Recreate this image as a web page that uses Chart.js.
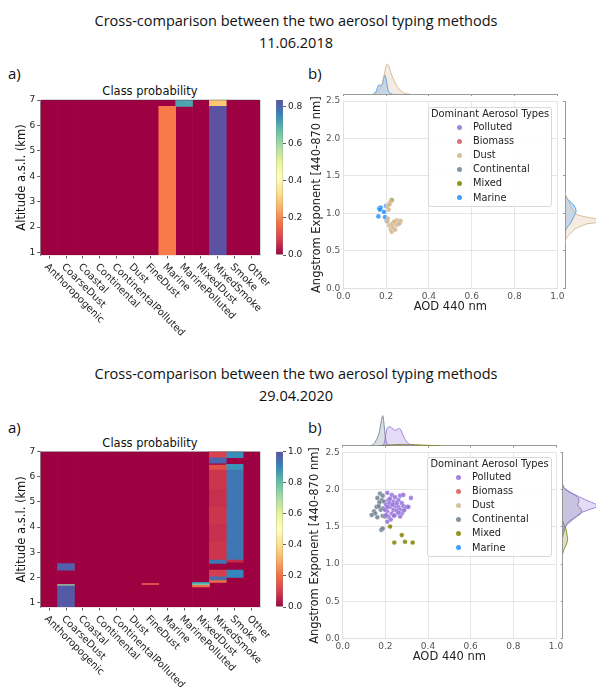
<!DOCTYPE html>
<html><head><meta charset="utf-8">
<script src="https://cdn.jsdelivr.net/npm/chart.js@4.4.1/dist/chart.umd.min.js"></script>
<style>
html,body{margin:0;padding:0;background:#fff;overflow:hidden;width:596px;height:687px;}
#fig{position:relative;width:596px;height:687px;overflow:hidden;background:#fff;}
canvas{position:absolute;}
.sup{position:absolute;left:296px;transform:translate(-50%,-50%);font-family:"Open Sans";font-size:14.5px;color:#111;white-space:nowrap;}
.pl{position:absolute;transform:translateY(-50%);font-family:"Open Sans";font-size:15px;color:#111;}
.ct{position:absolute;transform:translate(-50%,-50%);font-family:"DejaVu Sans";font-size:11.5px;color:#111;white-space:nowrap;}
.leg{position:absolute;box-sizing:border-box;border:1px solid #d9d9d9;border-radius:3px;background:rgba(255,255,255,0.85);font-family:"DejaVu Sans";font-size:9.8px;color:#222;}
.legt{position:absolute;left:0;right:0;text-align:center;transform:translateY(-50%);line-height:12px;white-space:nowrap;}
.legi{position:absolute;left:0;width:100%;height:12px;line-height:12px;transform:translateY(-50%);}
.dot{position:absolute;left:27.5px;top:3.5px;width:5px;height:5px;border-radius:50%;}
.lab{position:absolute;left:44px;top:0;white-space:nowrap;}
</style></head>
<body><div id="fig">
<div class="sup" style="top:20px">Cross-comparison between the two aerosol typing methods</div>
<div class="sup" style="top:42px">11.06.2018</div>
<div class="pl" style="left:8px;top:73px">a)</div>
<div class="pl" style="left:308px;top:73px">b)</div>
<div class="ct" style="left:150px;top:91px">Class probability</div>
<div class="sup" style="top:373px">Cross-comparison between the two aerosol typing methods</div>
<div class="sup" style="top:395px">29.04.2020</div>
<div class="pl" style="left:8px;top:427px">a)</div>
<div class="pl" style="left:308px;top:427px">b)</div>
<div class="ct" style="left:150px;top:443px">Class probability</div>
</div>
<script>
// ---------------- data ----------------
const categories = ['Anthoropogenic','CoarseDust','Coastal','Continental','ContinentalPolluted','Dust','FineDust','Marine','MarinePolluted','MixedDust','MixedSmoke','Smoke','Other'];
const altitudeTicks = [1,2,3,4,5,6,7];
const altitudeRange2018 = [0.9, 7];
const altitudeRange2020 = [0.82, 7];
const probMax2018 = 0.835;
const probMax2020 = 1.0;
const probTicks2018 = [0,0.2,0.4,0.6,0.8];
const probTicks2020 = [0,0.2,0.4,0.6,0.8,1.0];
// [category index, bottom km, top km, probability]
const probCells2018 = [
  [7, 0.9, 6.75, 0.185],
  [8, 6.75, 7.0, 0.71],
  [10, 0.9, 6.75, 0.83],
  [10, 6.75, 7.0, 0.29]
];
const probCells2020 = [
  [1, 0.82, 1.66, 0.98],
  [1, 1.66, 1.71, 0.72],
  [1, 2.29, 2.55, 0.97],
  [6, 1.71, 1.76, 0.14],
  [9, 1.62, 1.68, 0.2],
  [9, 1.68, 1.74, 0.78],
  [9, 1.74, 1.80, 0.88],
  [10, 1.80, 1.87, 0.2],
  [10, 1.87, 2.02, 0.95],
  [10, 2.02, 2.29, 0.1],
  [10, 2.55, 2.69, 0.93],
  [10, 2.69, 3.4, 0.085],
  [10, 3.4, 4.1, 0.075],
  [10, 4.1, 4.8, 0.085],
  [10, 4.8, 5.5, 0.075],
  [10, 5.5, 6.27, 0.085],
  [10, 6.27, 6.47, 0.14],
  [10, 6.54, 6.76, 0.96],
  [10, 6.76, 7.0, 0.11],
  [11, 2.0, 2.29, 0.9],
  [11, 2.6, 2.69, 0.07],
  [11, 2.69, 6.27, 0.93],
  [11, 6.27, 6.5, 0.88],
  [11, 6.76, 7.0, 0.89]
];

const aerosolTypes = ['Polluted','Biomass','Dust','Continental','Mixed','Marine'];
const typeColors = ['#9370db','#cd5c5c','#d2b48c','#708090','#808000','#1e90ff'];
const aodTicks = [0,0.2,0.4,0.6,0.8,1.0];
const aeTicks = [0,0.5,1.0,1.5,2.0,2.5];

// scatter points [AOD 440, Angstrom exponent]
const marine2018 = [[0.168,1.067],[0.175,1.076],[0.164,0.96],[0.19,1.02],[0.195,0.95],[0.203,0.90],[0.2,1.1],[0.171,1.05]];
const dust2018 = [[0.210,1.11],[0.218,1.14],[0.222,1.16],[0.205,1.09],[0.212,1.05],[0.206,0.89],[0.215,0.84],[0.221,0.79],[0.226,0.755],[0.234,0.80],[0.242,0.87],[0.25,0.91],[0.257,0.89],[0.265,0.875],[0.268,0.90],[0.25,0.845],[0.231,0.82],[0.242,0.78],[0.228,0.86],[0.238,0.89],[0.26,0.86],[0.215,1.12],[0.208,0.93]];
const mixed2018 = [[0.226,1.175]];
const polluted2020 = [[0.209,1.96],[0.23,1.93],[0.245,1.90],[0.269,1.92],[0.284,1.93],[0.32,1.89],[0.214,1.86],[0.2375,1.84],[0.261,1.86],[0.277,1.82],[0.203,1.80],[0.222,1.77],[0.245,1.78],[0.261,1.77],[0.269,1.73],[0.284,1.78],[0.292,1.75],[0.209,1.71],[0.23,1.68],[0.245,1.66],[0.214,1.64],[0.225,1.60],[0.209,1.57],[0.2375,1.73],[0.253,1.72],[0.277,1.68],[0.30,1.77],[0.219,1.82],[0.234,1.80],[0.198,1.73],[0.203,1.66],[0.253,1.82],[0.269,1.64],[0.222,1.88],[0.24,1.65],[0.209,1.77],[0.261,1.69],[0.2875,1.72],[0.308,1.77]];
const continental2020 = [[0.175,1.95],[0.1875,1.92],[0.1625,1.89],[0.183,1.86],[0.194,1.84],[0.172,1.83],[0.159,1.77],[0.147,1.71],[0.153,1.68],[0.136,1.66],[0.1625,1.63],[0.1875,1.65],[0.178,1.73],[0.19,1.75],[0.181,1.46],[0.1875,1.48],[0.198,1.64],[0.169,1.78]];
const mixed2020 = [[0.222,1.505],[0.242,1.29],[0.277,1.39],[0.292,1.30],[0.328,1.29]];

// marginal density curves (relative density)
const kdeMax = 37;
const aodDensDust2018 = [[0.14,0],[0.155,1],[0.165,3],[0.175,7],[0.185,13],[0.193,21],[0.2,28],[0.206,30],[0.213,28],[0.22,23],[0.228,18],[0.236,14],[0.245,10],[0.255,6.5],[0.265,4],[0.275,2],[0.29,0.5],[0.31,0]];
const aodDensMarine2018 = [[0.14,0],[0.15,1.5],[0.158,5],[0.164,8.5],[0.17,9],[0.176,8],[0.182,10],[0.188,15],[0.194,19],[0.2,15],[0.206,7],[0.212,2.5],[0.22,0.5],[0.23,0]];
const aeDensDust2018 = [[1.28,0],[1.24,1],[1.18,3],[1.1,6],[1.04,8],[1.0,10],[0.97,15],[0.94,26],[0.92,34],[0.9,38],[0.88,34],[0.86,22],[0.83,16],[0.8,11],[0.76,7.5],[0.72,4.5],[0.68,2],[0.64,0.5],[0.6,0]];
const aeDensMarine2018 = [[1.24,0],[1.2,1.5],[1.16,5],[1.12,8],[1.08,10],[1.04,11],[1.0,10.5],[0.96,9],[0.92,7.5],[0.88,6],[0.84,4],[0.8,1.5],[0.76,0.3],[0.72,0]];
const aodDensPolluted2020 = [[0.185,0],[0.194,2],[0.2,9],[0.206,16],[0.213,18.5],[0.22,19],[0.228,18],[0.237,16.5],[0.245,15.5],[0.253,16],[0.262,17],[0.27,16.5],[0.277,13.5],[0.285,9.5],[0.292,6.5],[0.302,3.5],[0.312,1.5],[0.325,0.3],[0.34,0]];
const aodDensContinental2020 = [[0.13,0],[0.142,1],[0.152,3.5],[0.16,6.5],[0.167,10],[0.173,15],[0.179,22],[0.184,28],[0.188,30],[0.192,25],[0.197,14],[0.202,6],[0.208,2],[0.215,0.5],[0.225,0]];
const aodDensMixed2020 = [[0.17,0],[0.2,0.5],[0.24,1],[0.28,1.3],[0.32,1.2],[0.36,0.8],[0.4,0.4],[0.44,0.1],[0.46,0]];
const aeDensPolluted2020 = [[2.08,0],[2.03,1.5],[1.99,5],[1.95,10],[1.91,16],[1.87,22],[1.83,29],[1.8,34],[1.77,34],[1.74,28],[1.7,20],[1.66,15],[1.62,12],[1.58,8.5],[1.54,5],[1.5,2],[1.46,0.5],[1.42,0]];
const aeDensContinental2020 = [[2.04,0],[2.0,3],[1.96,8],[1.92,13],[1.88,16],[1.84,16],[1.8,15],[1.76,17],[1.72,19],[1.68,18],[1.64,14],[1.6,9],[1.56,5],[1.52,3.5],[1.48,2.5],[1.44,1.5],[1.4,0.5],[1.36,0]];
const aeDensMixed2020 = [[1.58,0],[1.54,1],[1.5,2.5],[1.46,3.5],[1.42,4],[1.38,4.5],[1.34,5],[1.3,4.5],[1.26,3.5],[1.22,2],[1.18,0.8],[1.14,0]];

// ---------------- helpers ----------------
const SPECTRAL = ['#9e0142','#d53e4f','#f46d43','#fdae61','#fee08b','#ffffbf','#e6f598','#abdda4','#66c2a5','#3288bd','#5e4fa2'];
function hexRgb(h){return [parseInt(h.slice(1,3),16),parseInt(h.slice(3,5),16),parseInt(h.slice(5,7),16)];}
function spectral(t){
  t = Math.max(0, Math.min(1, t));
  const p = t*10, i = Math.min(9, Math.floor(p)), f = p - i;
  const a = hexRgb(SPECTRAL[i]), b = hexRgb(SPECTRAL[i+1]);
  return 'rgb(' + a.map((v,k)=>Math.round(v+(b[k]-v)*f)).join(',') + ')';
}
function rgba(hex,a){const c=hexRgb(hex);return `rgba(${c[0]},${c[1]},${c[2]},${a})`;}

Chart.defaults.font.family = '"DejaVu Sans"';
Chart.defaults.animation = false;
Chart.defaults.events = [];
Chart.defaults.plugins.legend.display = false;
Chart.defaults.plugins.tooltip.enabled = false;

const fig = document.getElementById('fig');
function makeChart(x, y, w, h, config){
  const c = document.createElement('canvas');
  c.width = w; c.height = h;
  c.style.left = x+'px'; c.style.top = y+'px'; c.style.width = w+'px'; c.style.height = h+'px';
  fig.appendChild(c);
  config.options = Object.assign({responsive:false, maintainAspectRatio:false, devicePixelRatio:1}, config.options);
  return new Chart(c.getContext('2d'), config);
}
function fixTicks(values){ return s => { s.ticks = values.map(v => ({value:v})); }; }

const diagLabels = { id:'diagLabels', afterDraw(chart){
  const s = chart.scales.x, ctx = chart.ctx;
  ctx.save(); ctx.font = '10px "DejaVu Sans"'; ctx.fillStyle = '#222'; ctx.textAlign = 'left'; ctx.textBaseline = 'middle';
  s.ticks.forEach((t,i) => {
    const px = s.getPixelForTick(i);
    ctx.save(); ctx.translate(px - 3, chart.chartArea.bottom + 10.5); ctx.rotate(Math.PI/4);
    ctx.fillText(s.getLabelForValue(t.value), 0, 0); ctx.restore();
  });
  ctx.restore();
}};
const frame = { id:'frame', afterDatasetsDraw(chart){
  const a = chart.chartArea, ctx = chart.ctx;
  ctx.save(); ctx.strokeStyle = 'rgba(60,60,60,0.6)'; ctx.lineWidth = 0.7;
  ctx.beginPath(); ctx.moveTo(a.left, a.top); ctx.lineTo(a.right, a.top); ctx.lineTo(a.right, a.bottom); ctx.stroke();
  ctx.restore();
}};

function heatmap(x, y, w, h, pad, axisW, axisH, range, vmax, cells){
  const base = { data: categories.map(() => [range[0], range[1]]), backgroundColor: spectral(0), order: 1 };
  const ds = cells.map(([ci, y0, y1, p]) => ({
    data: categories.map((_, i) => i === ci ? [y0, y1] : null),
    backgroundColor: spectral(p / vmax), order: 0 }));
  return makeChart(x, y, w, h, {
    type: 'bar',
    data: { labels: categories, datasets: [...ds, base] },
    options: {
      layout: { padding: pad },
      datasets: { bar: { grouped: false, barPercentage: 1, categoryPercentage: 1, borderWidth: 0 } },
      scales: {
        x: { type: 'category', offset: true,
             grid: { offset: false, drawOnChartArea: false, tickLength: 3.5, tickColor: '#333', tickWidth: 0.8 },
             border: { color: '#efe3e6', width: 2 }, ticks: { display: false },
             afterFit: s => { s.height = axisH; } },
        y: { type: 'linear', min: range[0], max: range[1], afterBuildTicks: fixTicks(altitudeTicks),
             grid: { drawOnChartArea: false, tickLength: 3.5, tickColor: '#333', tickWidth: 0.8 },
             border: { color: 'rgba(60,60,60,0.7)', width: 0.8 },
             ticks: { font: { size: 9 }, color: '#222', padding: 2 },
             title: { display: true, text: 'Altitude a.s.l. (km)', font: { size: 11.5 }, color: '#111', padding: { top: 14.8, bottom: 0 } },
             afterFit: s => { s.width = axisW; } }
      }
    },
    plugins: [frame, diagLabels]
  });
}

function colorbar(x, y, w, h, pad, axisW, vmax, ticks){
  return makeChart(x, y, w, h, {
    type: 'bar',
    data: { labels: [''], datasets: [{ data: [[0, vmax]],
      backgroundColor: c => {
        const ch = c.chart; if (!ch.chartArea) return SPECTRAL[0];
        const ys = ch.scales.y;
        const g = ch.ctx.createLinearGradient(0, ys.getPixelForValue(0), 0, ys.getPixelForValue(vmax));
        SPECTRAL.forEach((col, i) => g.addColorStop(i/10, col));
        return g;
      },
      borderColor: 'rgba(70,70,70,0.7)', borderWidth: 0.6, borderSkipped: false, barPercentage: 1, categoryPercentage: 1 }] },
    options: {
      layout: { padding: pad },
      scales: {
        x: { display: false },
        y: { position: 'right', min: 0, max: vmax, afterBuildTicks: fixTicks(ticks),
             grid: { drawOnChartArea: false, tickLength: 3, tickColor: '#333', tickWidth: 0.8 },
             border: { display: false },
             ticks: { font: { size: 9 }, color: '#222', padding: 2, callback: v => Number(v).toFixed(1) },
             afterFit: s => { s.width = axisW; } }
      }
    }
  });
}

function scatter(x, y, w, h, pad, axisW, axisH, xTitlePad, yTitlePad, series){
  const datasets = aerosolTypes.map((name, i) => ({
    label: name, data: series[i].map(([a, e]) => ({ x: a, y: e })),
    backgroundColor: rgba(typeColors[i], 0.85), borderColor: 'rgba(255,255,255,0.7)', borderWidth: 0.4, pointRadius: 2.4 }));
  return makeChart(x, y, w, h, {
    type: 'scatter', data: { datasets },
    options: {
      layout: { padding: pad },
      scales: {
        x: { type: 'linear', min: 0, max: 1, afterBuildTicks: fixTicks(aodTicks),
             grid: { color: '#e0e0e0', lineWidth: 0.8, drawTicks: false }, border: { color: '#e0e0e0', width: 0.8 },
             ticks: { font: { size: 9 }, color: '#555', padding: 3, callback: v => Number(v).toFixed(1) },
             title: { display: true, text: 'AOD 440 nm', font: { size: 11.5 }, color: '#222', padding: { top: 0, bottom: xTitlePad } },
             afterFit: s => { s.height = axisH; } },
        y: { type: 'linear', min: 0, max: 2.5, afterBuildTicks: fixTicks(aeTicks),
             grid: { color: '#e0e0e0', lineWidth: 0.8, drawTicks: false }, border: { color: '#e0e0e0', width: 0.8 },
             ticks: { font: { size: 9 }, color: '#555', padding: 3, callback: v => Number(v).toFixed(1) },
             title: { display: true, text: 'Angstrom Exponent [440-870 nm]', font: { size: 11.5 }, color: '#222', padding: { top: yTitlePad, bottom: 0 } },
             afterFit: s => { s.width = axisW; } }
      }
    }
  });
}

function kdeSets(curves, horizontal){
  return curves.map(([ti, arr]) => ({
    data: arr.map(([v, d]) => horizontal ? ({ x: v, y: d }) : ({ x: d, y: v })),
    fill: 'origin', backgroundColor: rgba(typeColors[ti], 0.25), borderColor: rgba(typeColors[ti], 0.85),
    borderWidth: 1, pointRadius: 0, tension: 0.35 }));
}
function topKde(x, y, w, h, pad, axisH, curves){
  return makeChart(x, y, w, h, {
    type: 'line', data: { datasets: kdeSets(curves, true) },
    options: {
      layout: { padding: pad },
      scales: {
        x: { type: 'linear', min: 0, max: 1, afterBuildTicks: fixTicks(aodTicks), ticks: { display: false },
             grid: { drawOnChartArea: false, tickLength: 2, tickColor: '#999' }, border: { color: '#9a9a9a', width: 1 },
             afterFit: s => { s.height = axisH; } },
        y: { type: 'linear', display: false, min: 0, max: kdeMax }
      }
    }
  });
}
function rightKde(x, y, w, h, pad, axisW, curves){
  return makeChart(x, y, w, h, {
    type: 'line', data: { datasets: kdeSets(curves, false) },
    options: {
      indexAxis: 'y',
      layout: { padding: pad },
      scales: {
        y: { type: 'linear', position: 'left', min: 0, max: 2.5, afterBuildTicks: fixTicks(aeTicks), ticks: { display: false },
             grid: { drawOnChartArea: false, tickLength: 2, tickColor: '#999' }, border: { color: '#9a9a9a', width: 1 },
             afterFit: s => { s.width = axisW; } },
        x: { type: 'linear', display: false, min: 0, max: kdeMax }
      }
    }
  });
}
function legend(left, top, width, height){
  const box = document.createElement('div'); box.className = 'leg';
  box.style.left = left + 'px'; box.style.top = top + 'px'; box.style.width = width + 'px'; box.style.height = height + 'px';
  const t = document.createElement('div'); t.className = 'legt'; t.textContent = 'Dominant Aerosol Types'; t.style.top = '5.6px';
  box.appendChild(t);
  aerosolTypes.forEach((name, i) => {
    const row = document.createElement('div'); row.className = 'legi'; row.style.top = (19 + i * 14.1) + 'px';
    const d = document.createElement('div'); d.className = 'dot'; d.style.background = rgba(typeColors[i], 0.85);
    const l = document.createElement('div'); l.className = 'lab'; l.textContent = name;
    row.appendChild(d); row.appendChild(l); box.appendChild(row);
  });
  fig.appendChild(box);
}

// ---------------- panel 11.06.2018 ----------------
heatmap(0, 80, 270, 270, { left: 0, top: 20, right: 10, bottom: 0 }, 40.7, 95, altitudeRange2018, probMax2018, probCells2018);
colorbar(270, 80, 50, 190, { left: 6, top: 20, right: 0, bottom: 15 }, 37, probMax2018, probTicks2018);
topKde(300, 40, 290, 60, { left: 43.3, top: 17, right: 32.7, bottom: 0 }, 6,
  [[2, aodDensDust2018], [5, aodDensMarine2018]]);
rightKde(557, 90, 90, 230, { left: 4, top: 11, right: 45, bottom: 31.7 }, 4,
  [[2, aeDensDust2018], [5, aeDensMarine2018]]);
scatter(300, 90, 290, 230, { left: 0, top: 11, right: 32.7, bottom: 0 }, 43.3, 31.7, 6.4, 9.8,
  [[], [], dust2018, [], mixed2018, marine2018]);
legend(428, 107, 124, 100);

// ---------------- panel 29.04.2020 ----------------
heatmap(0, 432, 270, 268, { left: 0, top: 19.7, right: 10, bottom: 0 }, 40.7, 93, altitudeRange2020, probMax2020, probCells2020);
colorbar(270, 432, 50, 190, { left: 6, top: 19.7, right: 0, bottom: 15 }, 37, probMax2020, probTicks2020);
topKde(300, 390, 290, 60, { left: 42.7, top: 18.7, right: 34, bottom: 0 }, 4.3,
  [[0, aodDensPolluted2020], [3, aodDensContinental2020], [4, aodDensMixed2020]]);
rightKde(555, 442, 92, 230, { left: 3.7, top: 10.7, right: 47.3, bottom: 33.7 }, 4,
  [[0, aeDensPolluted2020], [3, aeDensContinental2020], [4, aeDensMixed2020]]);
scatter(300, 442, 290, 230, { left: 0, top: 10.7, right: 34, bottom: 0 }, 42.7, 33.7, 7.8, 8.1,
  [polluted2020, [], [], continental2020, mixed2020, []]);
legend(427, 457, 125, 100);
</script>
</body></html>
